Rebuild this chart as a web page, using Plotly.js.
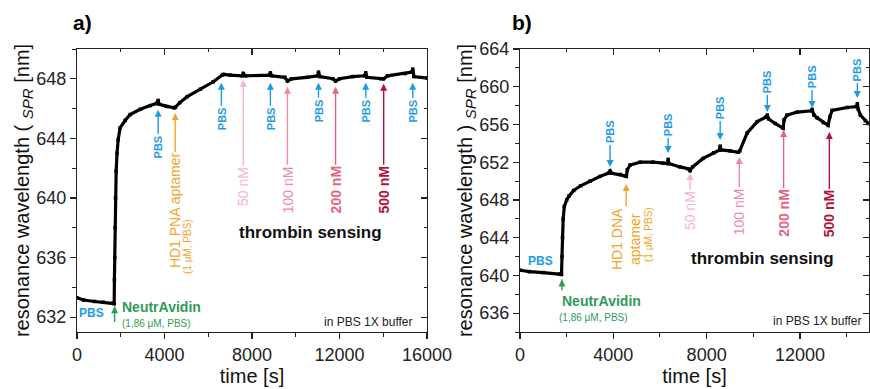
<!DOCTYPE html>
<html><head><meta charset="utf-8">
<script src="https://cdn.plot.ly/plotly-3.0.1.min.js"></script>
<style>html,body{margin:0;padding:0;background:#fff}#chart{width:870px;height:389px}</style>
</head><body><div id="chart"></div>
<script>
// ---------- data ----------
const timeA = [0,300,800,1200,1650,1700,1710,1725,1740,1760,1790,1830,1880,1970,2200,2430,2890,3345,3650,3710,3750,4100,4450,4500,4700,5040,5640,6230,6640,6700,7000,7550,7600,7700,8800,8840,8900,9500,9620,9800,10500,11000,11040,11100,11700,11820,12000,12600,13150,13200,13250,13900,14020,14200,15000,15300,15350,15400,16000];
const wlA   = [633.3,633.15,633.05,633.0,632.95,632.9,634.5,636.0,638.0,640.0,641.8,643.0,643.9,644.7,645.2,645.6,645.95,646.2,646.35,646.55,646.3,646.15,646.05,646.1,646.4,646.8,647.3,647.8,648.25,648.3,648.25,648.2,648.35,648.2,648.25,648.4,648.2,648.1,647.85,648.0,648.1,648.2,648.45,648.15,648.0,647.85,648.0,648.15,648.2,648.4,648.1,648.0,648.0,648.2,648.35,648.45,648.65,648.15,648.05];

const timeB = [0,400,1000,1700,1780,1800,1820,1850,1900,2000,2100,2300,2600,3000,3430,3800,3860,3900,4300,4500,4560,4600,4720,5150,5700,6130,6330,6350,6380,6860,7200,7290,7400,7850,8300,8560,8580,8620,9000,9350,9420,9740,10170,10550,10600,10650,10940,11280,11320,11450,11880,12500,12520,12600,12740,13000,13210,13280,13380,14020,14440,14460,14500,14590,14800,14930];
const wlB   = [640.55,640.4,640.3,640.15,640.1,642.0,644.0,646.0,647.3,648.0,648.4,649.0,649.5,650.0,650.5,650.85,651.05,650.85,650.7,650.55,650.5,651.2,651.7,652.0,652.0,651.9,651.85,652.3,651.85,651.5,651.3,651.1,651.5,652.4,653.0,653.3,653.7,653.3,653.2,653.05,653.2,655.1,656.3,656.8,657.0,656.6,656.1,655.6,656.5,657.0,657.3,657.45,657.6,657.0,656.7,656.2,655.9,656.8,657.5,657.8,657.9,658.2,657.6,657.0,656.4,656.1];

const xTicksA = [0,4000,8000,12000,16000];
const yTicksA = [632,636,640,644,648];
const xTicksB = [0,4000,8000,12000];
const yTicksB = [636,640,644,648,652,656,660,664];

// injection markers: times and arrow-tip wavelengths
const pbsTimeA = [3710,6600,8840,11040,13200,15350];
const pbsTipA  = [645.92,647.73,647.73,647.73,647.73,647.73];
const concLabels = ['50 nM','100 nM','200 nM','500 nM'];
const concTimeA = [7600,9620,11820,14020];
const concTipA  = [647.93,647.46,647.46,647.66];
const pbsTimeB = [3860,6350,8580,10600,12520,14460];
const pbsTipB  = [651.49,652.97,654.35,657.32,657.74,658.8];
const concTimeB = [7290,9400,11300,13260];
const concTipB  = [650.85,652.55,655.41,655.2];
const aptTimeA = 4490, aptTipA = 645.71;
const aptTimeB = 4550, aptTipB = 649.7;
const navTimeA = 1720, navTipA = 632.74;
const navTimeB = 1800, navTipB = 639.6;

// ---------- styling ----------
const FONT = 'Liberation Sans, Arial, sans-serif';
const W = 870, H = 389;
const BLUE = '#1f9be5', ORANGE = '#f2a52b', GREEN = '#2f9a58';
const concColors = ['#f7b6c6','#ee8aa0','#e5637f','#b5103a'];
const concBold = [false,false,true,true];
const P = (px, py) => ({x: px / W, y: 1 - py / H});

const xDomA = [77/W, 427/W], xDomB = [520/W, 869/W];
const yDom = [(H-332)/H, (H-49)/H];

const lineTrace = (x, y, xa, ya) => ({
  x, y, xaxis: xa, yaxis: ya, type: 'scatter', mode: 'lines+markers',
  line: {color: '#000', width: 3.2}, marker: {color: '#000', size: 3.5, symbol: 'square'},
  hoverinfo: 'skip', showlegend: false
});
const dummy = (xa, ya) => ({x: [], y: [], xaxis: xa, yaxis: ya, type: 'scatter', mode: 'lines', hoverinfo: 'skip', showlegend: false});

const tickFont = {family: FONT, size: 18, color: '#222'};
const titleFont = {family: FONT, size: 20, color: '#111'};
const baseAx = {showgrid: false, zeroline: false, showline: true, linecolor: '#222', linewidth: 1.2,
  tickcolor: '#222', tickwidth: 1.2, ticklen: 6, tickfont: tickFont, fixedrange: true, tickmode: 'array', automargin: false};

function xAx(dom, range, ticks, title) {
  return Object.assign({}, baseAx, {domain: dom, range, tickvals: ticks, ticktext: ticks.map(String), ticks: 'outside',
    title: {text: title, font: titleFont, standoff: 4},
    minor: {dtick: 2000, tick0: 0, ticks: 'outside', ticklen: 4, tickcolor: '#222', tickwidth: 1}});
}
function yAx(range, ticks, anchor, title) {
  return Object.assign({}, baseAx, {domain: yDom, range, tickvals: ticks, ticktext: ticks.map(String), ticks: 'outside', anchor,
    title: {text: title, font: titleFont, standoff: 1},
    minor: {dtick: 2, tick0: 0, ticks: 'outside', ticklen: 4, tickcolor: '#222', tickwidth: 1}});
}
function mirrorX(over, anchor, range, ticks) {
  return Object.assign({}, baseAx, {overlaying: over, anchor, side: 'top', range, tickvals: ticks, showticklabels: false, ticks: 'inside',
    minor: {dtick: 2000, tick0: 0, ticks: 'inside', ticklen: 3, tickcolor: '#222', tickwidth: 1}});
}
function mirrorY(over, anchor, range, ticks) {
  return Object.assign({}, baseAx, {overlaying: over, anchor, side: 'right', range, tickvals: ticks, showticklabels: false, ticks: 'inside',
    minor: {dtick: 2, tick0: 0, ticks: 'inside', ticklen: 3, tickcolor: '#222', tickwidth: 1}});
}

const rangeXA = [0, 16000], rangeYA = [631, 650];
const rangeXB = [0, 14960], rangeYB = [634, 664];

const ann = [];
function arrowLabel(xref, yref, x, y, text, color, size, bold, ay) {
  ann.push({xref, yref, x, y, text: bold ? '<b>' + text + '</b>' : text, textangle: -90,
    font: {family: FONT, size, color}, showarrow: true, arrowhead: 2, arrowsize: 1, arrowwidth: 1.4,
    arrowcolor: color, ax: 0, ay, standoff: 0, startstandoff: 1, borderpad: 0});
}
function freeText(px, py, text, size, color, xanchor, angle) {
  const p = P(px, py);
  ann.push({xref: 'paper', yref: 'paper', x: p.x, y: p.y, text, showarrow: false, xanchor: xanchor || 'center', yanchor: 'middle',
    textangle: angle || 0, font: {family: FONT, size, color}});
}

// small green arrows drawn as pixel-sized shapes anchored at the data point
const shapes = [];
function smallArrow(xref, yref, t, v, len, color) {
  shapes.push({type: 'line', xref, yref, xsizemode: 'pixel', xanchor: t, ysizemode: 'pixel', yanchor: v,
    x0: 0, x1: 0, y0: -5, y1: -len, line: {color, width: 1.4}});
  shapes.push({type: 'path', xref, yref, xsizemode: 'pixel', xanchor: t, ysizemode: 'pixel', yanchor: v,
    path: 'M0,0 L-3,-7 L3,-7 Z', fillcolor: color, line: {color, width: 0.5}});
}
smallArrow('x', 'y', navTimeA, navTipA, 16, GREEN);
smallArrow('x2', 'y2', navTimeB, navTipB, 11, GREEN);

// panel a arrows
const pbsAyA = [37.5, 36, 36, 28, 28, 28];
pbsTimeA.forEach((t, i) => arrowLabel('x', 'y', t, pbsTipA[i], 'PBS', BLUE, 11, true, pbsAyA[i]));
const concAyA = [107, 103, 103, 106];
concTimeA.forEach((t, i) => arrowLabel('x', 'y', t, concTipA[i], concLabels[i], concColors[i], 14, concBold[i], concAyA[i]));
arrowLabel('x', 'y', aptTimeA, aptTipA, 'HD1 PNA aptamer', ORANGE, 14, false, 98);

// panel b arrows
const pbsAyB = [-35, -28, -32, -30, -31, -28];
pbsTimeB.forEach((t, i) => arrowLabel('x2', 'y2', t, pbsTipB[i], 'PBS', BLUE, 11, true, pbsAyB[i]));
const concAyB = [38, 55, 83, 82];
concTimeB.forEach((t, i) => arrowLabel('x2', 'y2', t, concTipB[i], concLabels[i], concColors[i], 14, concBold[i], concAyB[i]));
ann.push({xref: 'x2', yref: 'y2', x: aptTimeB, y: aptTipB, text: 'HD1 DNA<br>aptamer', textangle: -90, align: 'center',
  font: {family: FONT, size: 14, color: ORANGE}, showarrow: true, arrowhead: 2, arrowsize: 1, arrowwidth: 1.4,
  arrowcolor: ORANGE, ax: 0, ay: 55, standoff: 0});

// free texts
freeText(188, 247, '(1 μM, PBS)', 10, ORANGE, 'center', -90);
freeText(648, 235, '(1 μM, PBS)', 10, ORANGE, 'center', -90);
freeText(91, 313, '<b>PBS</b>', 12, BLUE);
freeText(120, 307, '<b>NeutrAvidin</b>', 14, GREEN, 'left');
freeText(120, 323, '(1,86 μM, PBS)', 10, GREEN, 'left');
freeText(540, 261, '<b>PBS</b>', 12, BLUE);
freeText(601, 301, '<b>NeutrAvidin</b>', 14, GREEN);
freeText(593, 317, '(1,86 μM, PBS)', 10, GREEN);
freeText(310, 232, '<b>thrombin sensing</b>', 17, '#111');
freeText(762, 258, '<b>thrombin sensing</b>', 17, '#111');
freeText(415, 322, 'in PBS 1X buffer', 12, '#222', 'right');
freeText(864, 321, 'in PBS 1X buffer', 12, '#222', 'right');
freeText(82, 22, '<b>a)</b>', 21, '#000');
freeText(522, 22, '<b>b)</b>', 21, '#000');

const SUB = '<span style="font-size:15px;font-style:italic">SPR</span>';
const data = [
  lineTrace(timeA, wlA, 'x', 'y'),
  lineTrace(timeB, wlB, 'x2', 'y2'),
  dummy('x3', 'y3'), dummy('x4', 'y4')
];

const layout = {
  width: W, height: H, margin: {l: 0, r: 0, t: 0, b: 0}, paper_bgcolor: '#fff', plot_bgcolor: '#fff',
  showlegend: false, font: {family: FONT},
  xaxis: Object.assign(xAx(xDomA, rangeXA, xTicksA, 'time [s]'), {anchor: 'y'}),
  yaxis: yAx(rangeYA, yTicksA, 'x', 'resonance wavelength ( <sub>' + SUB + '</sub> [nm]'),
  xaxis2: Object.assign(xAx(xDomB, rangeXB, xTicksB, 'time [s]'), {anchor: 'y2'}),
  yaxis2: yAx(rangeYB, yTicksB, 'x2', 'resonance wavelength ) <sub>' + SUB + '</sub> [nm]'),
  xaxis3: mirrorX('x', 'y3', rangeXA, xTicksA),
  yaxis3: mirrorY('y', 'x3', rangeYA, yTicksA),
  xaxis4: mirrorX('x2', 'y4', rangeXB, xTicksB),
  yaxis4: mirrorY('y2', 'x4', rangeYB, yTicksB),
  annotations: ann,
  shapes
};

Plotly.newPlot('chart', data, layout, {staticPlot: true, displayModeBar: false});
</script></body></html>
